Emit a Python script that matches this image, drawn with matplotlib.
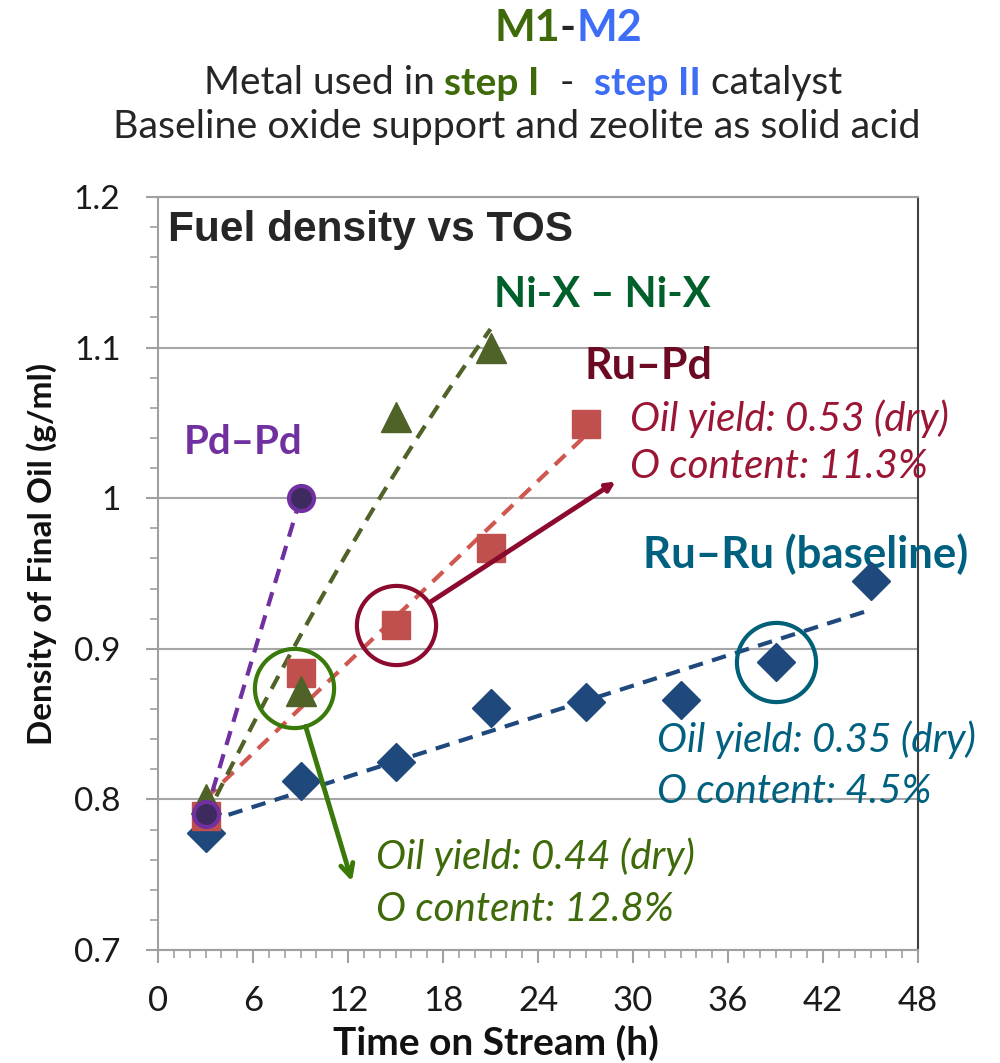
import numpy as np
import matplotlib
matplotlib.use("Agg")
import matplotlib.pyplot as plt
from matplotlib.ticker import MultipleLocator

plt.rcParams['font.family'] = ['Lato', 'DejaVu Sans']

# data
tos_ruru = [3, 9, 15, 21, 27, 33, 39, 45]
dens_ruru = [0.778, 0.812, 0.825, 0.861, 0.865, 0.866, 0.891, 0.945]
tos_rupd = [3, 9, 15, 21, 27]
dens_rupd = [0.789, 0.884, 0.916, 0.967, 1.049]
tos_nix = [3, 9, 15, 21]
dens_nix = [0.800, 0.872, 1.054, 1.100]
tos_pdpd = [3, 9]
dens_pdpd = [0.790, 1.000]

x_ticks = [0, 6, 12, 18, 24, 30, 36, 42, 48]
y_ticks = [0.7, 0.8, 0.9, 1.0, 1.1, 1.2]

fig = plt.figure(figsize=(10, 10.63), dpi=100)
ax = fig.add_axes([0.158, 0.1063, 0.76, 0.7084])


def trend(x, y, deg):
    p = np.polyfit(x, y, deg)
    xs = np.linspace(min(x), max(x), 100)
    return xs, np.polyval(p, xs)


dash = (0, (3.5, 2.3))
# trendlines
xs, ys = trend(tos_ruru, dens_ruru, 1)
ax.plot(xs, ys, ls=dash, color='#1f497d', lw=3, zorder=3)
xs, ys = trend(tos_rupd, dens_rupd, 1)
ax.plot(xs, ys, ls=dash, color='#d0574f', lw=3, zorder=3)
xs, ys = trend(tos_nix, dens_nix, 2)
ax.plot(xs, ys, ls=dash, color='#4f6228', lw=3, zorder=3)
xs, ys = trend(tos_pdpd, dens_pdpd, 1)
ax.plot(xs, ys, ls=dash, color='#7030a0', lw=3, zorder=3)

# markers
ax.plot(tos_ruru, dens_ruru, 'D', ms=19, color='#1f497d', zorder=4)
ax.plot(tos_rupd, dens_rupd, 's', ms=20, color='#c0504d', zorder=4)
ax.plot(tos_nix, dens_nix, '^', ms=21, color='#4f6228', zorder=4)
ax.plot(tos_pdpd, dens_pdpd, 'o', ms=18, mfc='#3d2a5e', mec='#7030a0', mew=3, zorder=5)

# highlight circles
ax.plot(tos_rupd[2], dens_rupd[2], 'o', ms=57, mfc='none', mec='#8b0a2e', mew=3, zorder=6)
ax.plot(tos_ruru[6], dens_ruru[6], 'o', ms=57, mfc='none', mec='#006078', mew=3, zorder=6)
ax.plot(tos_nix[1] - 0.4, dens_nix[1] + 0.002, 'o', ms=57, mfc='none', mec='#3a7a0a', mew=3, zorder=6)

# arrows
ax.annotate('', xy=(28.9, 1.011), xytext=(tos_rupd[2], dens_rupd[2]),
            arrowprops=dict(arrowstyle='-|>,head_length=0.5,head_width=0.25', color='#8b0a2e',
                            lw=3.5, shrinkA=29, shrinkB=0), zorder=6)
ax.annotate('', xy=(12.25, 0.7455), xytext=(tos_nix[1] - 0.4, dens_nix[1] + 0.002),
            arrowprops=dict(arrowstyle='->,head_length=0.9,head_width=0.45', color='#3a7a0a',
                            lw=3.5, shrinkA=29, shrinkB=0), zorder=6)

# series labels
ax.text(0.63, 1.178, 'Fuel density vs TOS', fontsize=30.5, fontweight='bold', color='#262626',
        family='Liberation Sans', va='center', ha='left')
ax.text(28.05, 1.135, 'Ni-X – Ni-X', fontsize=30, fontweight='bold', color='#00602b', ha='center', va='center')
ax.text(30.95, 1.0877, 'Ru–Pd', fontsize=31, fontweight='bold', color='#6b0a22', ha='center', va='center')
ax.text(5.37, 1.037, 'Pd–Pd', fontsize=29, fontweight='bold', color='#7030a0', ha='center', va='center')
ax.text(40.9, 0.963, 'Ru–Ru (baseline)', fontsize=31.5, fontweight='bold', color='#00607f', ha='center', va='center')

ital = dict(fontsize=29, style='italic', ha='left', va='center')
ax.text(29.8, 1.0525, 'Oil yield: 0.53 (dry)', color='#9b1535', **ital)
ax.text(29.8, 1.021, 'O content: 11.3%', color='#9b1535', **ital)
ax.text(31.5, 0.8395, 'Oil yield: 0.35 (dry)', color='#00607f', **ital)
ax.text(31.5, 0.805, 'O content: 4.5%', color='#00607f', **ital)
ax.text(13.8, 0.762, 'Oil yield: 0.44 (dry)', color='#3e6a0a', **ital)
ax.text(13.8, 0.727, 'O content: 12.8%', color='#3e6a0a', **ital)

# axes styling
ax.set_xlim(0, 48)
ax.set_ylim(0.7, 1.2)
ax.set_xticks(x_ticks)
ax.set_yticks(y_ticks)
ax.set_yticklabels(['0.7', '0.8', '0.9', '1', '1.1', '1.2'])
ax.xaxis.set_minor_locator(MultipleLocator(1))
ax.yaxis.set_minor_locator(MultipleLocator(0.02))
ax.tick_params(axis='both', which='major', labelsize=24, length=9, width=1.5, color='#a0a0a0',
               direction='out', pad=18)
ax.tick_params(axis='both', which='minor', length=6, width=1.2, color='#a0a0a0', direction='out')
ax.tick_params(axis='x', which='major', labelsize=25, pad=16)
for lab in ax.get_xticklabels() + ax.get_yticklabels():
    lab.set_color('#1a1a1a')
ax.grid(axis='y', which='major', color='#a6a6a6', lw=1.5)
for s in ['left', 'bottom', 'top']:
    ax.spines[s].set_color('#a0a0a0')
    ax.spines[s].set_linewidth(1.5)
ax.spines['right'].set_color('#404040')
ax.spines['right'].set_linewidth(1.5)

# axis titles
fig.text(0.496, 1 - 1043 / 1063, 'Time on Stream (h)', fontsize=28, fontweight='bold',
         color='#111111', ha='center', va='center')
fig.text(0.042, 1 - 554 / 1063, 'Density of Final Oil (g/ml)', fontsize=24, fontweight='bold',
         color='#111111', ha='center', va='center', rotation=90)


# multi-coloured header lines
def colored_line(parts, xc, y, size):
    r = fig.canvas.get_renderer()
    texts = []
    widths = []
    for s, c, w in parts:
        t = fig.text(0, y, s, color=c, fontsize=size, fontweight=w, va='center', ha='left')
        bb = t.get_window_extent(renderer=r)
        texts.append(t)
        widths.append(bb.width)
    total = sum(widths)
    x = xc * fig.bbox.width - total / 2
    for t, w in zip(texts, widths):
        t.set_x(x / fig.bbox.width)
        x += w


green = '#3f6a0a'
blue = '#3d6ef5'
colored_line([('M1', green, 'bold'), ('-', '#262626', 'bold'), ('M2', blue, 'bold')], 0.568, 0.9737, 31)
colored_line([('Metal used in ', '#262626', 'normal'), ('step I', green, 'bold'),
              ('  -  ', '#262626', 'normal'), ('step II', blue, 'bold'),
              (' catalyst', '#262626', 'normal')], 0.523, 0.9219, 28)
fig.text(0.517, 0.8805, 'Baseline oxide support and zeolite as solid acid', fontsize=28.4,
         color='#262626', ha='center', va='center')

fig.savefig('out.png', dpi=100)
